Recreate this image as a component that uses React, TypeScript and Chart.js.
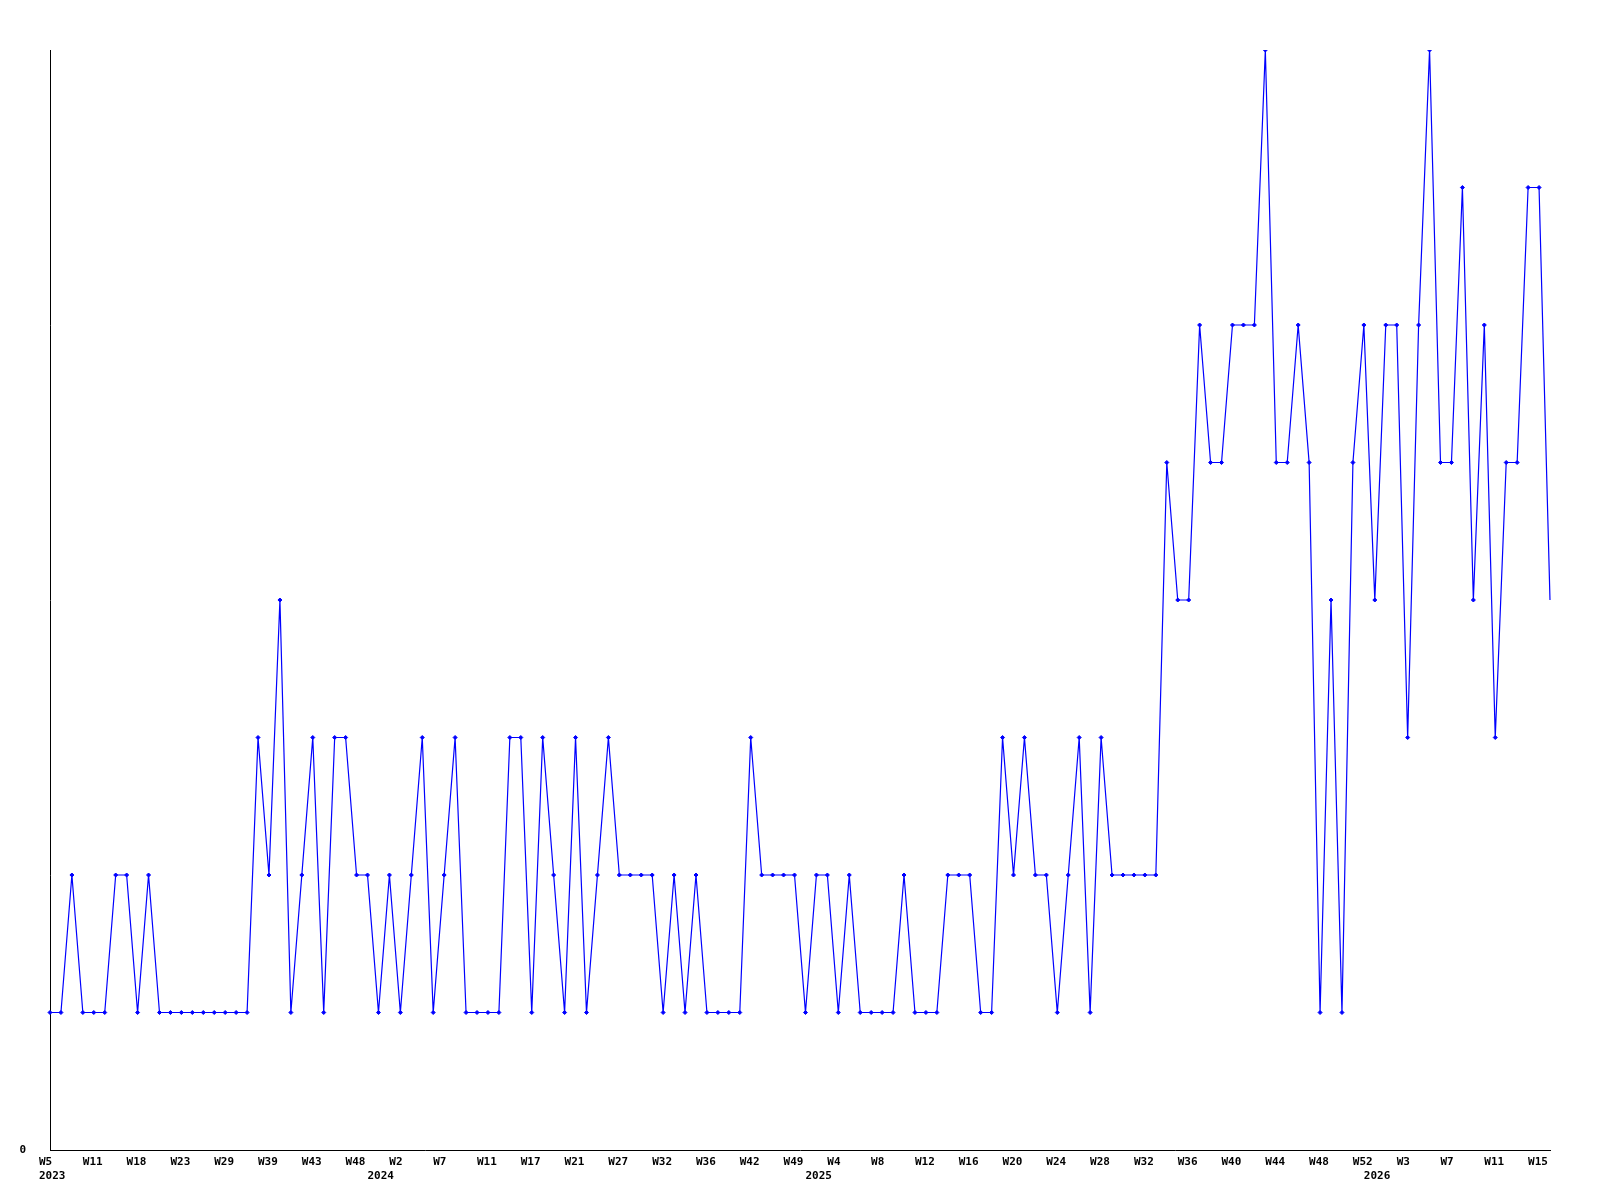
import React, { useEffect, useRef } from 'react';
import { Chart, registerables } from 'chart.js';

Chart.register(...registerables);

// Weekly values, one per plotted point (weeks without data are not plotted)
const values: number[] = [
  1, 1, 2, 1, 1, 1, 2, 2, 1, 2, 1, 1, 1, 1, 1, 1, 1, 1, 1, 3,
  2, 4, 1, 2, 3, 1, 3, 3, 2, 2, 1, 2, 1, 2, 3, 1, 2, 3, 1, 1,
  1, 1, 3, 3, 1, 3, 2, 1, 3, 1, 2, 3, 2, 2, 2, 2, 1, 2, 1, 2,
  1, 1, 1, 1, 3, 2, 2, 2, 2, 1, 2, 2, 1, 2, 1, 1, 1, 1, 2, 1,
  1, 1, 2, 2, 2, 1, 1, 3, 2, 3, 2, 2, 1, 2, 3, 1, 3, 2, 2, 2,
  2, 2, 5, 4, 4, 6, 5, 5, 6, 6, 6, 8, 5, 5, 6, 5, 1, 4, 1, 5,
  6, 4, 6, 6, 3, 6, 8, 5, 5, 7, 4, 6, 3, 5, 5, 7, 7, 4,
];

// Visible week tick labels (one every `tickEvery` points)
const tickLabels: string[] = [
  'W5', 'W11', 'W18', 'W23', 'W29', 'W39', 'W43', 'W48', 'W2', 'W7',
  'W11', 'W17', 'W21', 'W27', 'W32', 'W36', 'W42', 'W49', 'W4', 'W8',
  'W12', 'W16', 'W20', 'W24', 'W28', 'W32', 'W36', 'W40', 'W44', 'W48',
  'W52', 'W3', 'W7', 'W11', 'W15',
];
const tickEvery = 4;

// Year labels and the point where each year starts
const yearLabels: string[] = ['2023', '2024', '2025', '2026'];
const yearStartIndex: number[] = [0, 30, 70, 121];

const yMin = 0;
const yMax = 8;
const yTickLabels: string[] = ['0'];

export default function App() {
  const canvasRef = useRef<HTMLCanvasElement | null>(null);

  useEffect(() => {
    const canvas = canvasRef.current;
    if (!canvas) return;

    const labels = values.map((_, i) => {
      const week = i % tickEvery === 0 ? tickLabels[i / tickEvery] ?? '' : '';
      const yi = yearStartIndex.indexOf(i);
      if (yi >= 0) return [week, yearLabels[yi]];
      return week;
    });

    const font = { family: '"DejaVu Sans Mono", monospace', size: 11, weight: 'bold' as const, lineHeight: 1.3 };
    const lastIndex = values.length - 1;

    const chart = new Chart(canvas, {
      type: 'line',
      data: {
        labels,
        datasets: [
          {
            data: values,
            borderColor: '#0000ff',
            backgroundColor: '#0000ff',
            borderWidth: 1.2,
            tension: 0,
            fill: false,
            pointStyle: 'rectRot',
            pointRadius: (ctx: any) => (ctx.dataIndex === lastIndex ? 0 : 2),
            pointBorderWidth: 1,
            pointBackgroundColor: '#0000ff',
            pointBorderColor: '#0000ff',
          },
        ],
      },
      options: {
        responsive: false,
        animation: false,
        layout: { padding: { top: 50, right: 50, left: 0, bottom: 0 } },
        plugins: {
          legend: { display: false },
          tooltip: { enabled: false },
          title: { display: false },
        },
        scales: {
          x: {
            type: 'category',
            offset: false,
            grid: { display: false, drawTicks: false },
            border: { display: true, color: '#000000', width: 1 },
            ticks: {
              autoSkip: false,
              maxRotation: 0,
              minRotation: 0,
              align: 'start',
              labelOffset: -11,
              padding: 5,
              color: '#000000',
              font,
            },
            afterFit: (scale: any) => {
              scale.height = 50;
            },
          },
          y: {
            min: yMin,
            max: yMax,
            grid: { display: false, drawTicks: false },
            border: { display: true, color: '#000000', width: 1 },
            ticks: {
              stepSize: yMax - yMin,
              padding: 24,
              color: '#000000',
              font,
              callback: (v: any) => (Number(v) === yMin ? yTickLabels[0] : ''),
            },
            afterFit: (scale: any) => {
              scale.width = 50;
            },
          },
        },
      },
    });

    return () => {
      chart.destroy();
    };
  }, []);

  return (
    <div style={{ position: 'absolute', left: 0, top: 0, width: 1600, height: 1200, background: '#ffffff' }}>
      <canvas ref={canvasRef} width={1600} height={1200} style={{ display: 'block' }} />
    </div>
  );
}
